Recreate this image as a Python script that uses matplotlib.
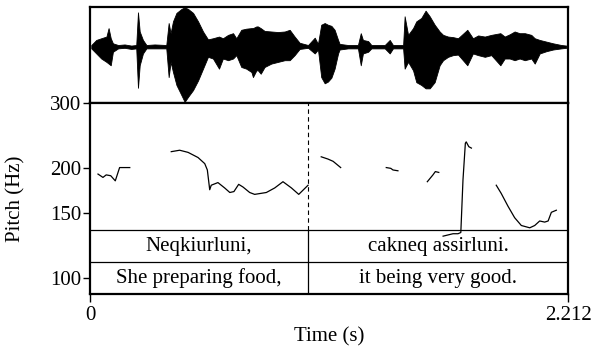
import numpy as np
import matplotlib
matplotlib.use("Agg")
import matplotlib.pyplot as plt
from matplotlib.transforms import blended_transform_factory

plt.rcParams['font.family'] = ['Liberation Serif', 'DejaVu Serif']
plt.rcParams['font.size'] = 15

t_end = 2.212
boundary = 1.010

# waveform envelope (upper / lower amplitude)
wave_t = [0.006, 0.029, 0.052, 0.076, 0.086, 0.096, 0.106, 0.130, 0.160, 0.191,
          0.214, 0.222, 0.230, 0.245, 0.261, 0.299, 0.353, 0.364, 0.373, 0.384,
          0.400, 0.423, 0.438, 0.454, 0.477, 0.500, 0.523, 0.546, 0.569, 0.597,
          0.615, 0.639, 0.662, 0.677, 0.700, 0.723, 0.747, 0.754, 0.770, 0.777,
          0.790, 0.808, 0.839, 0.870, 0.901, 0.924, 0.947, 0.970, 1.009, 1.040,
          1.055, 1.070, 1.086, 1.101, 1.117, 1.132, 1.148, 1.155, 1.194, 1.240,
          1.253, 1.263, 1.287, 1.302, 1.364, 1.387, 1.402, 1.449, 1.456, 1.472,
          1.495, 1.510, 1.533, 1.553, 1.572, 1.595, 1.618, 1.634, 1.657, 1.680,
          1.703, 1.746, 1.772, 1.796, 1.827, 1.857, 1.899, 1.919, 1.942, 1.965,
          1.988, 2.012, 2.042, 2.058, 2.081, 2.112, 2.143, 2.181, 2.204]
wave_hi = [0.03, 0.12, 0.15, 0.18, 0.33, 0.15, 0.06, 0.03, 0.04, 0.02,
           0.03, 0.61, 0.27, 0.12, 0.03, 0.04, 0.03, 0.42, 0.24, 0.45,
           0.60, 0.67, 0.70, 0.67, 0.60, 0.45, 0.27, 0.13, 0.15, 0.18,
           0.15, 0.21, 0.24, 0.15, 0.30, 0.32, 0.33, 0.33, 0.36, 0.36,
           0.33, 0.28, 0.27, 0.26, 0.27, 0.30, 0.18, 0.07, 0.03, 0.16,
           0.05, 0.39, 0.42, 0.39, 0.37, 0.30, 0.12, 0.05, 0.03, 0.03,
           0.24, 0.12, 0.10, 0.03, 0.03, 0.12, 0.03, 0.03, 0.54, 0.21,
           0.33, 0.45, 0.51, 0.64, 0.54, 0.39, 0.27, 0.21, 0.18, 0.17,
           0.15, 0.30, 0.15, 0.20, 0.18, 0.21, 0.24, 0.18, 0.22, 0.27,
           0.24, 0.24, 0.21, 0.15, 0.12, 0.09, 0.06, 0.03, 0.02]
wave_lo = [0.03, 0.12, 0.21, 0.27, 0.30, 0.33, 0.09, 0.03, 0.02, 0.04,
           0.03, 0.73, 0.33, 0.12, 0.03, 0.03, 0.03, 0.54, 0.27, 0.45,
           0.68, 0.86, 0.98, 0.89, 0.77, 0.60, 0.39, 0.18, 0.21, 0.39,
           0.21, 0.24, 0.21, 0.15, 0.36, 0.39, 0.45, 0.54, 0.42, 0.42,
           0.48, 0.36, 0.30, 0.27, 0.24, 0.24, 0.15, 0.04, 0.02, 0.12,
           0.05, 0.54, 0.65, 0.62, 0.55, 0.39, 0.12, 0.05, 0.03, 0.03,
           0.33, 0.12, 0.09, 0.03, 0.03, 0.12, 0.03, 0.03, 0.39, 0.27,
           0.42, 0.63, 0.68, 0.74, 0.74, 0.63, 0.33, 0.24, 0.18, 0.15,
           0.14, 0.33, 0.12, 0.15, 0.18, 0.15, 0.33, 0.21, 0.21, 0.24,
           0.21, 0.24, 0.21, 0.30, 0.12, 0.08, 0.05, 0.03, 0.02]

# pitch contour pieces (time s, Hz)
seg1_t = [0.037, 0.060, 0.075, 0.096, 0.117, 0.137, 0.184]
seg1_hz = [192, 188, 191, 190, 184, 200, 200]
seg2_t = [0.376, 0.415, 0.454, 0.500, 0.531, 0.543, 0.554, 0.561, 0.592, 0.623,
          0.647, 0.666, 0.688, 0.708, 0.739, 0.762, 0.816, 0.855, 0.893, 0.932,
          0.966, 1.009]
seg2_hz = [221, 223, 220, 213, 205, 197, 174, 179, 182, 176,
           171, 172, 180, 177, 171, 169, 171, 176, 183, 176,
           169, 179]
seg3_t = [1.070, 1.101, 1.125, 1.160]
seg3_hz = [214, 211, 208, 200]
seg4_t = [1.371, 1.392, 1.402, 1.425]
seg4_hz = [200, 199, 197, 196]
seg5_t = [1.561, 1.587, 1.598, 1.614]
seg5_hz = [183, 191, 195, 194]
seg6_t = [1.634, 1.657, 1.680, 1.703, 1.716, 1.726, 1.737, 1.741, 1.753, 1.765]
seg6_hz = [130, 131, 132, 132, 133, 185, 233, 235, 228, 226]
seg7_t = [1.880, 1.903, 1.934, 1.965, 1.996, 2.035, 2.058, 2.081, 2.104, 2.120,
          2.135, 2.158]
seg7_hz = [179, 170, 157, 146, 139, 137, 139, 143, 142, 143, 151, 153]

tier1 = ["Neqkiurluni,", "cakneq assirluni."]
tier2 = ["She preparing food,", "it being very good."]

y_ticks = [100, 150, 200, 300]

fig = plt.figure(figsize=(6.02, 3.54), dpi=100)
left, width = 90 / 602, 478 / 602
axw = fig.add_axes([left, 1 - 103 / 354, width, 96 / 354])
axp = fig.add_axes([left, 1 - 294 / 354, width, 191 / 354])

# waveform
axw.fill_between(wave_t, wave_hi, [-v for v in wave_lo], color='black', lw=0.6)
axw.set_xlim(0, t_end)
axw.set_ylim(-1.0, 0.705)
axw.set_xticks([])
axw.set_yticks([])
for s in axw.spines.values():
    s.set_linewidth(1.6)

# pitch
for st, sh in [(seg1_t, seg1_hz), (seg2_t, seg2_hz), (seg3_t, seg3_hz),
               (seg4_t, seg4_hz), (seg5_t, seg5_hz), (seg6_t, seg6_hz),
               (seg7_t, seg7_hz)]:
    axp.plot(st, sh, color='black', lw=0.9)
axp.set_yscale('log')
axp.set_xlim(0, t_end)
axp.set_ylim(90.4, 300)
axp.minorticks_off()
axp.set_yticks(y_ticks)
axp.set_yticklabels([str(v) for v in y_ticks])
axp.set_xticks([0, t_end])
axp.set_xticklabels(['0', '2.212'])
axp.tick_params(axis='y', direction='out', length=5, width=1, pad=1)
axp.tick_params(axis='x', direction='out', length=6, width=1, pad=3)
for s in axp.spines.values():
    s.set_linewidth(1.6)

# text tiers
tr = blended_transform_factory(axp.transData, axp.transAxes)
tier_top = 64 / 191
tier_mid = 32 / 191
axp.plot([0, 1], [tier_top, tier_top], transform=axp.transAxes, color='black', lw=0.9)
axp.plot([0, 1], [tier_mid, tier_mid], transform=axp.transAxes, color='black', lw=0.9)
axp.plot([boundary, boundary], [0, tier_top], transform=tr, color='black', lw=0.9)
axp.plot([boundary, boundary], [tier_top, 1], transform=tr, color='black', lw=0.8,
         linestyle=(0, (4, 3)))
edges = [0, boundary, t_end]
for i in range(2):
    xc = (edges[i] + edges[i + 1]) / 2
    axp.text(xc, (tier_top + tier_mid) / 2, tier1[i], transform=tr,
             ha='center', va='center')
    axp.text(xc, tier_mid / 2, tier2[i], transform=tr, ha='center', va='center')

fig.text(329 / 602, 1 - 337 / 354, 'Time (s)', ha='center', va='center')
fig.text(16 / 602, 1 - 199 / 354, 'Pitch (Hz)', ha='center', va='center',
         rotation=90)

fig.savefig('out.png', dpi=100)
